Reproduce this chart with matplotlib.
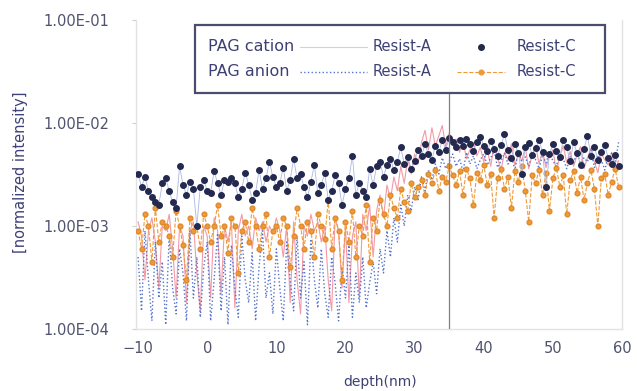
import numpy as np
import matplotlib.pyplot as plt
from matplotlib.patches import Rectangle
from matplotlib.lines import Line2D

# depth axis, 0.5 nm steps
depth = np.arange(-10, 60, 0.5)

# intensities in units of 1e-3
cation_a = [1.1, 0.8, 0.3, 0.9, 1.2, 0.7, 0.25, 1.0, 0.9, 1.3, 0.6, 0.2, 1.0, 0.8, 0.18, 0.9, 1.1, 0.35, 0.15, 1.0,
            0.8, 0.2, 1.2, 0.9, 0.22, 1.0, 0.7, 1.1, 0.16, 0.9, 1.3, 0.8, 1.0, 0.6, 1.2, 0.9, 1.1, 0.7, 1.0, 0.85,
            1.2, 0.9, 0.5, 1.0, 0.18, 1.1, 0.3, 0.14, 1.0, 0.8, 1.3, 0.9, 1.1, 0.7, 1.0, 0.3, 0.15, 1.2, 0.9, 0.25,
            1.0, 0.18, 0.8, 1.1, 0.2, 1.3, 0.9, 1.6, 0.5, 1.4, 2.0, 1.2, 2.5, 1.8, 3.0, 2.2, 3.8, 2.6, 4.5, 3.2,
            5.0, 4.0, 6.5, 8.5, 5.5, 9.0, 6.0, 7.5, 9.5, 5.8, 8.0, 6.2, 7.0, 5.2, 6.8, 4.5, 5.5, 6.5, 4.8, 5.8,
            4.2, 5.6, 3.8, 6.0, 4.6, 3.5, 5.2, 4.4, 6.3, 3.9, 5.0, 4.3, 5.8, 3.6, 4.9, 6.1, 4.0, 5.4, 3.7, 4.8,
            5.5, 3.4, 4.7, 6.0, 4.1, 5.3, 3.8, 4.9, 5.9, 3.6, 4.6, 5.7, 4.2, 3.3, 5.0, 4.4, 3.9, 5.2, 3.5, 4.3]

cation_c = [3.2, 2.4, 3.0, 2.2, 1.9, 1.7, 1.6, 2.6, 2.9, 2.2, 1.7, 1.5, 3.8, 2.5, 2.0, 2.7, 2.3, 1.0, 2.4, 2.8,
            2.2, 2.1, 3.4, 2.6, 2.0, 2.8, 2.7, 2.9, 2.6, 1.9, 2.3, 3.3, 2.5, 1.8, 2.1, 3.5, 2.3, 2.9, 4.2, 3.0,
            2.4, 2.6, 3.7, 2.2, 2.8, 4.5, 2.9, 3.2, 2.4, 1.9, 2.7, 3.9, 2.1, 2.5, 3.3, 1.8, 2.2, 3.1, 2.6, 1.6,
            2.3, 2.9, 4.8, 2.0, 2.6, 2.2, 1.9, 3.6, 2.5, 3.8, 4.2, 3.0, 3.9, 4.5, 3.5, 4.2, 5.8, 4.0, 4.7, 3.6,
            4.3, 5.5, 4.8, 6.2, 5.0, 4.4, 6.0, 5.2, 6.8, 5.5, 7.2, 6.5, 5.8, 6.9, 6.0, 7.0, 6.3, 5.4, 6.6, 7.4,
            6.0, 5.3, 6.7, 5.6, 4.8, 6.1, 7.8, 5.5, 4.6, 6.3, 5.1, 3.2, 5.9, 6.4, 4.9, 5.7, 6.8, 5.2, 2.4, 5.0,
            6.2, 5.4, 4.7, 6.9, 5.8, 4.3, 6.5, 5.1, 3.9, 5.6, 7.5, 4.8, 5.9, 4.4, 5.2, 6.1, 4.6, 4.0, 4.9, 3.8]

anion_a = [0.5, 0.15, 0.9, 0.3, 0.12, 0.7, 0.2, 0.45, 0.11, 0.8, 0.25, 0.14, 0.6, 0.35, 0.12, 0.9, 0.2, 0.5, 0.13, 0.4,
           0.7, 0.12, 0.3, 0.85, 0.15, 0.5, 0.11, 0.65, 0.25, 0.13, 0.8, 0.3, 0.18, 0.55, 0.12, 0.4, 0.9, 0.2, 0.35, 0.14,
           0.6, 0.25, 0.12, 0.7, 0.3, 0.15, 0.8, 0.2, 0.45, 0.11, 0.75, 0.3, 0.16, 0.6, 0.22, 0.13, 0.5, 0.28, 0.12, 0.4,
           0.2, 0.65, 0.13, 0.35, 0.18, 0.5, 0.16, 0.28, 0.45, 0.22, 0.6, 0.35, 0.9, 0.5, 1.2, 0.7, 1.6, 1.0, 2.0, 1.4,
           2.4, 1.8, 3.0, 2.2, 3.5, 2.8, 4.0, 3.2, 4.6, 3.6, 4.2, 5.0, 3.8, 4.5, 3.4, 5.2, 4.0, 4.8, 3.6, 4.4,
           5.0, 3.9, 4.6, 5.4, 3.7, 4.3, 5.1, 4.0, 4.8, 3.5, 5.3, 4.2, 4.7, 3.8, 5.0, 4.4, 3.6, 4.9, 4.1, 5.2,
           4.3, 3.8, 5.0, 4.5, 3.6, 4.8, 4.1, 5.3, 3.9, 4.6, 4.2, 5.5, 3.7, 4.9, 4.4, 3.5, 4.7, 5.1, 4.0, 6.5]

anion_c = [0.9, 0.6, 1.3, 1.0, 0.45, 1.5, 0.7, 1.1, 1.0, 0.8, 0.5, 1.4, 1.0, 0.65, 0.3, 1.2, 0.9, 1.0, 0.6, 1.3,
           1.0, 0.7, 1.0, 1.6, 0.8, 1.0, 0.55, 1.2, 1.0, 0.35, 0.9, 1.1, 0.7, 1.5, 1.0, 0.6, 1.0, 1.3, 0.5, 0.9,
           1.0, 0.7, 1.2, 1.0, 0.4, 0.8, 1.5, 1.0, 0.6, 1.1, 0.9, 0.5, 1.3, 1.0, 0.75, 1.8, 0.6, 1.2, 0.9, 0.3,
           1.1, 0.7, 1.4, 0.5, 1.0, 0.8, 1.6, 0.45, 1.2, 0.9, 1.8, 1.3, 1.0, 2.0, 1.5, 1.2, 2.3, 1.7, 1.4, 2.6,
           1.9, 2.4, 2.8, 2.0, 3.2, 2.6, 3.5, 2.2, 3.0, 2.7, 3.8, 3.1, 2.5, 3.4, 2.0, 3.6, 2.9, 1.6, 3.3, 2.8,
           3.9, 2.5, 3.2, 1.2, 2.9, 3.6, 2.3, 3.0, 1.5, 3.4, 2.7, 3.8, 2.2, 1.1, 3.1, 2.6, 3.5, 2.0, 3.3, 1.4,
           2.9, 3.7, 2.4, 3.1, 1.3, 2.8, 3.4, 2.1, 3.0, 1.8, 2.6, 3.5, 2.3, 1.0, 2.9, 3.2, 2.0, 2.7, 3.6, 2.4]

SCALE = 1e-3
marker_depth = 35
y_ticks = [1e-4, 1e-3, 1e-2, 1e-1]
y_tick_labels = ['1.00E-04', '1.00E-03', '1.00E-02', '1.00E-01']
x_ticks = [-10, 0, 10, 20, 30, 40, 50, 60]

pink = '#f29aa6'
navy = '#24294f'
blue = '#5573cc'
orange = '#ef9a3a'
txt = '#3d4075'
tick_txt = '#50536e'

fig = plt.figure(figsize=(6.37, 3.91), dpi=100)
ax = fig.add_axes([0.2135, 0.1586, 0.763, 0.790])

ax.plot(depth, np.array(cation_a) * SCALE, color=pink, lw=0.8, zorder=2)
ax.plot(depth, np.array(anion_a) * SCALE, color=blue, lw=1.0, ls=':', zorder=3)
ax.plot(depth, np.array(anion_c) * SCALE, color=orange, lw=0.8, ls='--',
        marker='o', ms=3.4, mfc=orange, mec='#e08a2a', zorder=4)
ax.plot(depth, np.array(cation_c) * SCALE, color='#aab8e4', lw=0.6,
        marker='o', ms=4.0, mfc=navy, mec=navy, zorder=5)

ax.axvline(marker_depth, ymin=0, ymax=0.764, color='#808080', lw=0.9, zorder=6)

ax.set_yscale('log')
ax.set_ylim(1e-4, 1e-1)
ax.set_xlim(-10.3, 60)
ax.set_yticks(y_ticks)
ax.set_yticklabels(y_tick_labels)
ax.minorticks_off()
ax.set_xticks(x_ticks)
ax.tick_params(axis='y', labelsize=10.5, colors='#d0d0d0', labelcolor=tick_txt, length=3, pad=16)
ax.tick_params(axis='x', labelsize=10.5, length=0, labelcolor=tick_txt, pad=9)
ax.spines['top'].set_visible(False)
for s in ['left', 'right', 'bottom']:
    ax.spines[s].set_color('#e2e2e2')
    ax.spines[s].set_linewidth(1.0)

# axis titles
fig.text(380 / 637, 1 - 389 / 391, 'depth(nm)', ha='center', va='bottom',
         fontsize=10, color=txt)
fig.text(0.032, 0.56, '[normalized intensity]', rotation=90, ha='center', va='center',
         fontsize=10.5, color=txt)

# legend box drawn by hand to match the two-row layout
ax.add_patch(Rectangle((0.121, 0.764), 0.844, 0.220, transform=ax.transAxes,
                       fill=True, facecolor='white', edgecolor='#4a4c70', lw=1.6, zorder=7))
rows = [0.913, 0.832]
ax.text(0.148, rows[0], 'PAG cation', transform=ax.transAxes, fontsize=11.5, color=txt,
        va='center', zorder=8)
ax.text(0.148, rows[1], 'PAG anion', transform=ax.transAxes, fontsize=11.5, color=txt,
        va='center', zorder=8)
handles = [
    (rows[0], 0.337, 0.475, dict(color=pink, lw=0.8, alpha=0.6)),
    (rows[1], 0.337, 0.475, dict(color=blue, lw=1.0, ls=':')),
    (rows[0], 0.66, 0.76, dict(color='none', marker='o', ms=4.0, mfc=navy, mec=navy, markevery=[1])),
    (rows[1], 0.66, 0.76, dict(color=orange, lw=0.8, ls='--', marker='o', ms=3.4, mfc=orange,
                              mec=orange, markevery=[1])),
]
for yy, x0, x1, kw in handles:
    ax.add_line(Line2D([x0, (x0 + x1) / 2, x1], [yy, yy, yy], transform=ax.transAxes,
                       zorder=8, **kw))
for yy in rows:
    ax.text(0.486, yy, 'Resist-A', transform=ax.transAxes, fontsize=10.5, color=txt,
            va='center', zorder=8)
    ax.text(0.784, yy, 'Resist-C', transform=ax.transAxes, fontsize=10.5, color=txt,
            va='center', zorder=8)

fig.savefig('out.png', dpi=100)
